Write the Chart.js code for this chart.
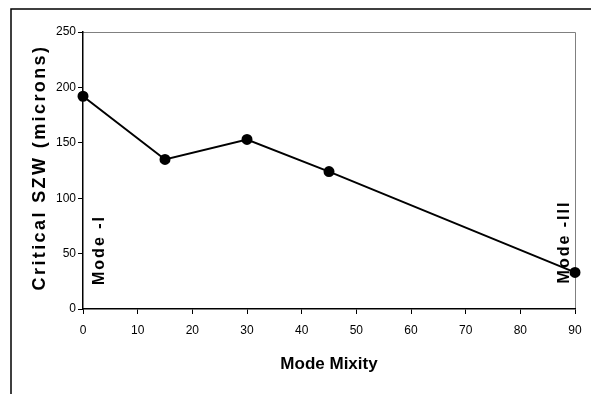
<!DOCTYPE html>
<html>
<head>
<meta charset="utf-8">
<script src="https://cdn.jsdelivr.net/npm/chart.js@4/dist/chart.umd.min.js"></script>
<style>
  html, body { margin: 0; padding: 0; background: #fff; }
  #wrap { width: 591px; height: 394px; }
</style>
</head>
<body>
<div id="wrap"><canvas id="szwChart" width="591" height="394"></canvas></div>
<script>
// data
const mixity = [0, 15, 30, 45, 90];
const criticalSzw = [192, 135, 153, 124, 33];
const xTicks = [0, 10, 20, 30, 40, 50, 60, 70, 80, 90];
const yTicks = [0, 50, 100, 150, 200, 250];
const modeLabels = [
  { text: 'Mode -I', x: 0, dx: 17, cy: 251 },
  { text: 'Mode -III', x: 90, dx: -10, cy: 243 }
];

const FONT = '"Liberation Sans", Arial, sans-serif';

// frame, plot box, axis titles and mode labels
const decor = {
  id: 'decor',
  beforeDraw(chart) {
    const ctx = chart.ctx;
    const a = chart.chartArea;
    ctx.save();
    ctx.fillStyle = '#fff';
    ctx.fillRect(0, 0, chart.width, chart.height);
    ctx.strokeStyle = '#000';
    ctx.lineWidth = 1.5;
    ctx.beginPath();
    ctx.moveTo(11, 394);
    ctx.lineTo(11, 9);
    ctx.lineTo(591, 9);
    ctx.stroke();
    // top and right edge of the plot box
    ctx.strokeStyle = '#808080';
    ctx.lineWidth = 1;
    ctx.beginPath();
    ctx.moveTo(a.left, a.top + 0.5);
    ctx.lineTo(a.right + 0.5, a.top + 0.5);
    ctx.lineTo(a.right + 0.5, a.bottom);
    ctx.stroke();
    ctx.restore();
  },
  afterDraw(chart) {
    const ctx = chart.ctx;
    const a = chart.chartArea;
    const xs = chart.scales.x;
    ctx.save();
    ctx.fillStyle = '#000';
    ctx.textAlign = 'center';
    ctx.textBaseline = 'middle';

    // x title
    ctx.font = 'bold 17px ' + FONT;
    ctx.fillText('Mode Mixity', (a.left + a.right) / 2, 364);

    // y title
    ctx.save();
    ctx.translate(40, (a.top + a.bottom) / 2 - 2);
    ctx.rotate(-Math.PI / 2);
    ctx.font = 'bold 18px ' + FONT;
    ctx.letterSpacing = '2.4px';
    ctx.fillText('Critical SZW (microns)', 1, 0);
    ctx.restore();

    // mode annotations
    ctx.font = 'bold 16px ' + FONT;
    ctx.letterSpacing = '2px';
    modeLabels.forEach(m => {
      ctx.save();
      ctx.translate(xs.getPixelForValue(m.x) + m.dx, m.cy);
      ctx.rotate(-Math.PI / 2);
      ctx.fillText(m.text, 1, 0);
      ctx.restore();
    });
    ctx.restore();
  }
};

new Chart(document.getElementById('szwChart'), {
  type: 'line',
  data: {
    datasets: [{
      data: mixity.map((x, i) => ({ x: x, y: criticalSzw[i] })),
      borderColor: '#000',
      backgroundColor: '#000',
      borderWidth: 2,
      pointRadius: 4.5,
      pointHoverRadius: 4.5,
      pointBackgroundColor: '#000',
      pointBorderColor: '#000',
      tension: 0,
      clip: false
    }]
  },
  options: {
    responsive: false,
    animation: false,
    layout: { padding: { left: 0, top: 32, right: 16, bottom: 0 } },
    plugins: { legend: { display: false }, tooltip: { enabled: false } },
    scales: {
      x: {
        type: 'linear',
        min: 0,
        max: 90,
        afterBuildTicks: s => { s.ticks = xTicks.map(v => ({ value: v })); },
        afterFit: s => { s.height = 85; },
        grid: { drawOnChartArea: false, drawTicks: true, tickLength: 5, color: '#000' },
        border: { color: '#000', width: 1.5 },
        ticks: { color: '#000', font: { family: FONT, size: 12 }, padding: 9, maxRotation: 0 }
      },
      y: {
        min: 0,
        max: 250,
        afterBuildTicks: s => { s.ticks = yTicks.map(v => ({ value: v })); },
        afterFit: s => { s.width = 83; },
        grid: { drawOnChartArea: false, drawTicks: true, tickLength: 5, color: '#000' },
        border: { color: '#000', width: 1.5 },
        ticks: { color: '#000', font: { family: FONT, size: 12 }, padding: 2 }
      }
    }
  },
  plugins: [decor]
});
</script>
</body>
</html>
